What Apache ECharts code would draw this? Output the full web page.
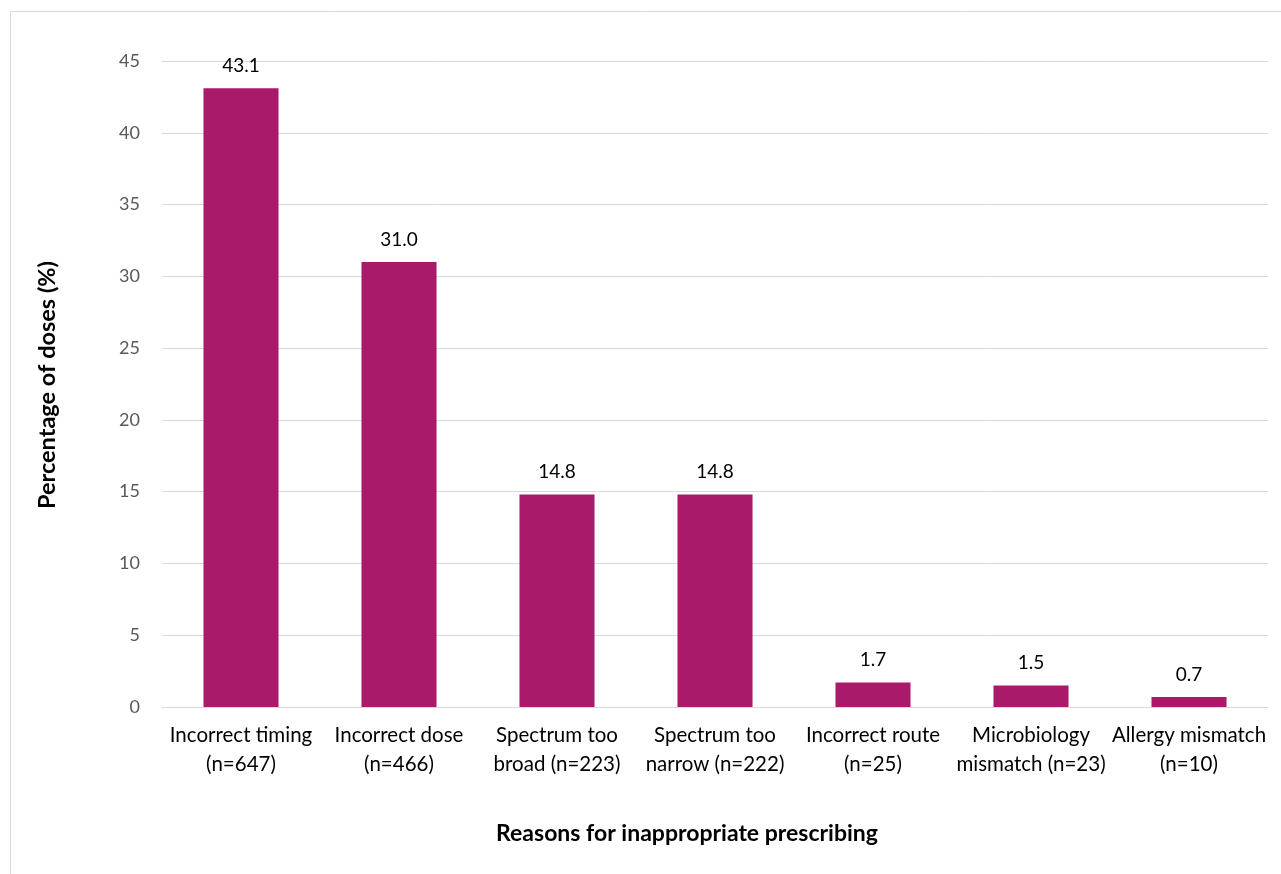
<!DOCTYPE html>
<html><head><meta charset="utf-8">
<script src="https://cdn.jsdelivr.net/npm/echarts@6/dist/echarts.min.js"></script>
<style>html,body{margin:0;padding:0;background:#fff}#c{width:1281px;height:874px}</style>
</head><body><div id="c"></div>
<script>
const categories = ["Incorrect timing\n(n=647)","Incorrect dose\n(n=466)","Spectrum too\nbroad (n=223)","Spectrum too\nnarrow (n=222)","Incorrect route\n(n=25)","Microbiology\nmismatch (n=23)","Allergy mismatch\n(n=10)"];
const values = [43.1, 31.0, 14.8, 14.8, 1.7, 1.5, 0.7];
const yTicks = [0,5,10,15,20,25,30,35,40,45];
const FONT = "Lato, 'Open Sans', sans-serif";
const chart = echarts.init(document.getElementById('c'), null, {renderer:'canvas'});
chart.setOption({
  animation:false,
  graphic:[
    {type:'rect', shape:{x:10.5,y:11.5,width:1290,height:900}, style:{fill:'none', stroke:'#d9d9d9', lineWidth:1}, z:-1},
    {type:'text', style:{text:'Reasons for inappropriate prescribing', font:"bold 23px "+FONT, fill:'#000', textAlign:'center', textVerticalAlign:'middle'}, x:687, y:834},
    {type:'text', style:{text:'Percentage of doses (%)', font:"bold 23.5px "+FONT, fill:'#000', textAlign:'center', textVerticalAlign:'middle'}, x:47, y:385, rotation:Math.PI/2}
  ],
  grid:{left:162, right:13, top:61, bottom:167},
  xAxis:{type:'category', data:categories,
    axisLine:{show:true, lineStyle:{color:'#d9d9d9', width:1}}, axisTick:{show:false},
    axisLabel:{color:'#000', fontFamily:FONT, fontSize:20.5, lineHeight:29, margin:14, interval:0}},
  yAxis:{type:'value', min:yTicks[0], max:yTicks[yTicks.length-1], interval:5,
    axisLine:{show:false}, axisTick:{show:false},
    splitLine:{lineStyle:{color:'#d9d9d9', width:1}},
    axisLabel:{color:'#595959', fontFamily:FONT, fontSize:18, margin:22}},
  series:[{type:'bar', data:values, barWidth:'47.5%',
    itemStyle:{color:'#AA1A6B'},
    label:{show:true, position:'top', distance:13, color:'#000', fontFamily:FONT, fontSize:19,
      formatter:p=>p.value.toFixed(1)}}]
});
</script></body></html>
